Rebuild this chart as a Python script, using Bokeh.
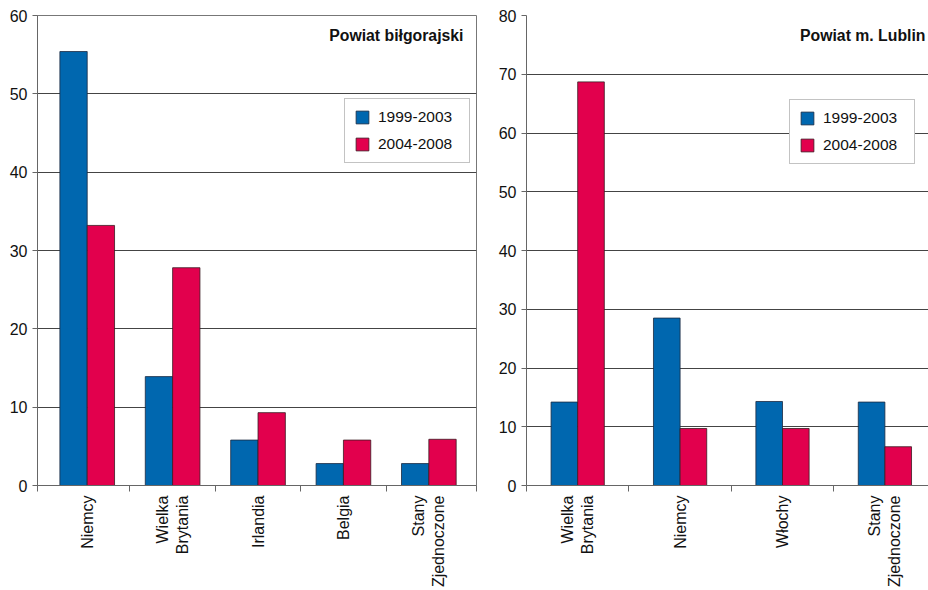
import numpy as np
from bokeh.plotting import figure
from bokeh.layouts import row
from bokeh.models import (ColumnDataSource, Range1d, FixedTicker, Legend,
                          LegendItem, Label)
from bokeh.transform import dodge
from bokeh.embed import file_html
from bokeh.resources import INLINE

# ---------------- data ----------------
series_labels = ["1999-2003", "2004-2008"]

left_title = "Powiat biłgorajski"
left_countries = ["Niemcy", "Wielka\nBrytania", "Irlandia", "Belgia", "Stany\nZjednoczone"]
left_1999_2003 = [55.4, 13.9, 5.8, 2.8, 2.8]
left_2004_2008 = [33.2, 27.8, 9.3, 5.8, 5.9]
left_yticks = [0, 10, 20, 30, 40, 50, 60]

right_title = "Powiat m. Lublin"
right_countries = ["Wielka\nBrytania", "Niemcy", "Włochy", "Stany\nZjednoczone"]
right_1999_2003 = [14.2, 28.5, 14.3, 14.2]
right_2004_2008 = [68.7, 9.7, 9.7, 6.6]
right_yticks = [0, 10, 20, 30, 40, 50, 60, 70, 80]

BLUE = "#0067AF"
RED = "#E2004D"
FONT = "Liberation Sans"
FS = "16px"


def make_panel(countries, s1, s2, yticks, title, width, b_left, b_right,
               x_start, x_end, bar_w, legend_loc, title_x, outline):
    n = len(countries)
    pos = list(range(n))
    src = ColumnDataSource(dict(pos=pos, a=s1, b=s2))
    p = figure(width=width, height=590, output_backend="svg",
               toolbar_location=None,
               x_range=Range1d(x_start, x_end),
               y_range=Range1d(yticks[0], yticks[-1]),
               min_border_left=b_left, min_border_right=b_right,
               min_border_top=15, min_border_bottom=103)
    p.background_fill_color = "white"
    p.border_fill_color = "white"
    p.outline_line_color = "#777777" if outline else None
    p.outline_line_width = 1

    r1 = p.vbar(x=dodge("pos", -bar_w / 2, range=p.x_range), top="a", bottom=0,
                width=bar_w, source=src, fill_color=BLUE,
                line_color="#1c2a40", line_width=0.8)
    r2 = p.vbar(x=dodge("pos", bar_w / 2, range=p.x_range), top="b", bottom=0,
                width=bar_w, source=src, fill_color=RED,
                line_color="#3a1a22", line_width=0.8)

    # grid
    p.xgrid.visible = False
    p.ygrid.ticker = FixedTicker(ticks=yticks)
    p.ygrid.grid_line_color = "#444444"
    p.ygrid.grid_line_width = 1

    # y axis
    p.yaxis.ticker = FixedTicker(ticks=yticks)
    p.yaxis.major_tick_in = 0
    p.yaxis.major_tick_out = 5
    p.yaxis.minor_tick_line_color = None
    p.yaxis.axis_line_color = "#666666"
    p.yaxis.major_tick_line_color = "#666666"
    p.yaxis.major_label_standoff = 5
    p.yaxis.major_label_text_font = FONT
    p.yaxis.major_label_text_font_size = FS
    p.yaxis.major_label_text_color = "#111111"

    # x axis: labels at centres, ticks at category boundaries
    bounds = [x_start] + [i + 0.5 for i in range(n - 1)] + [x_end]
    p.xaxis.ticker = FixedTicker(ticks=pos, minor_ticks=bounds)
    p.xaxis.major_label_overrides = {i: c for i, c in zip(pos, countries)}
    p.xaxis.major_tick_in = 0
    p.xaxis.major_tick_out = 0
    p.xaxis.minor_tick_in = 0
    p.xaxis.minor_tick_out = 6
    p.xaxis.minor_tick_line_color = "#666666"
    p.xaxis.axis_line_color = "#666666"
    p.xaxis.major_label_orientation = np.pi / 2
    p.xaxis.major_label_standoff = 4
    p.xaxis.major_label_text_font = FONT
    p.xaxis.major_label_text_font_size = FS
    p.xaxis.major_label_text_color = "#111111"
    p.xaxis.major_label_text_line_height = 1.18

    legend = Legend(items=[LegendItem(label=series_labels[0], renderers=[r1]),
                           LegendItem(label=series_labels[1], renderers=[r2])],
                    location=legend_loc, orientation="vertical")
    legend.margin = 0
    legend.padding = 9
    legend.spacing = 9
    legend.glyph_width = 16
    legend.glyph_height = 16
    legend.label_height = 16
    legend.label_width = 82
    legend.label_standoff = 8
    legend.label_text_font = FONT
    legend.label_text_font_size = "15.5px"
    legend.label_text_color = "#111111"
    legend.border_line_color = "#888888"
    legend.border_line_width = 1.2
    legend.background_fill_color = "white"
    legend.background_fill_alpha = 1
    p.add_layout(legend)

    lab = Label(x=title_x, y=450.5, x_units="screen", y_units="screen",
                text=title, text_font=FONT, text_font_size="15.8px",
                text_font_style="bold", text_align="right",
                text_baseline="middle", text_color="#111111")
    p.add_layout(lab)
    return p


left = make_panel(left_countries, left_1999_2003, left_2004_2008, left_yticks,
                  left_title, 480, 37, 4, -0.582, 4.558, 0.32, (307, 322.5), 426, True)
right = make_panel(right_countries, right_1999_2003, right_2004_2008, right_yticks,
                   right_title, 448, 46, 0, -0.5, -0.5 + 402 / 102.4, 0.26,
                   (263, 321), 399, False)

layout = row(left, right, spacing=0)
open("out.html", "w").write(file_html(layout, INLINE))
